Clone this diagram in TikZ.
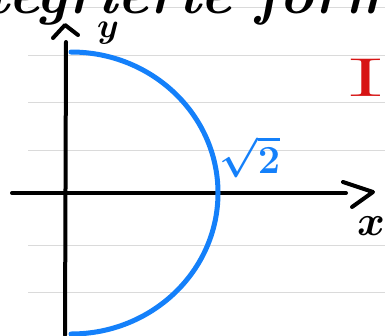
\documentclass[tikz,border=0pt]{standalone}
\usepackage{amsmath}
\usepackage{bm}
\usetikzlibrary{positioning}
\definecolor{penblue}{RGB}{20,128,250}
\definecolor{penred}{RGB}{215,20,20}
\definecolor{ruleline}{RGB}{218,218,218}

\tikzset{
  pen/.style={line width=4pt, line cap=round, line join=round},
  curvepen/.style={penblue, line width=5pt, line cap=round},
  ruled/.style={ruleline, line width=1pt},
}

\begin{document}
\begin{tikzpicture}[x=1pt, y=-1pt]
      \useasboundingbox (0,0) rectangle (385,335);
      \clip (0,0) rectangle (385,335);
      \fill[white] (0,0) rectangle (385,335);

      % ruled paper
      \foreach \ly in {7,55,102,150,245,292}
        \draw[ruled] (28,\ly) -- (385,\ly);

      % heading, cut at the top
      \node[anchor=base west, inner sep=0pt, scale=2.35, font=\Huge\bfseries\itshape] (title) at (-80,13) {Integrierte formel};

      % axes
      \coordinate (yfoot) at (65,335);
      \coordinate (ytop) at (66,42);
      \coordinate (yl) at (53,38);
      \coordinate (yt) at (65,25);
      \coordinate (yr) at (78,35);
      \coordinate (xfoot) at (12,193);
      \coordinate (xend) at (346,193);
      \coordinate (xu) at (343,182);
      \coordinate (xt) at (373,192);
      \coordinate (xd) at (352,207);

      \draw[pen] (yfoot) -- (ytop);
      \draw[pen] (yl) -- (yt) -- (yr);
      \draw[pen] (xfoot) -- (xend);
      \draw[pen] (xu) -- (xt) -- (xd);

      \node[scale=1.4, font=\Huge] (ylab) at (108,33) {$\bm{y}$};
      \node[scale=1.7, font=\Huge] (xlab) at (371,226) {$\bm{x}$};

      % half ellipse
      \coordinate (ctop) at (71,52);
      \draw[curvepen] (ctop) arc[start angle=90, end angle=-90, x radius=147pt, y radius=141pt];

      \node[penblue, scale=1.6, font=\Huge] (root) at (250,157) {$\bm{\sqrt{2}}$};
      \node[penred, xscale=5, yscale=2.2, font=\Huge] (mark) at (366,78) {I};
    \end{tikzpicture}
\end{document}
